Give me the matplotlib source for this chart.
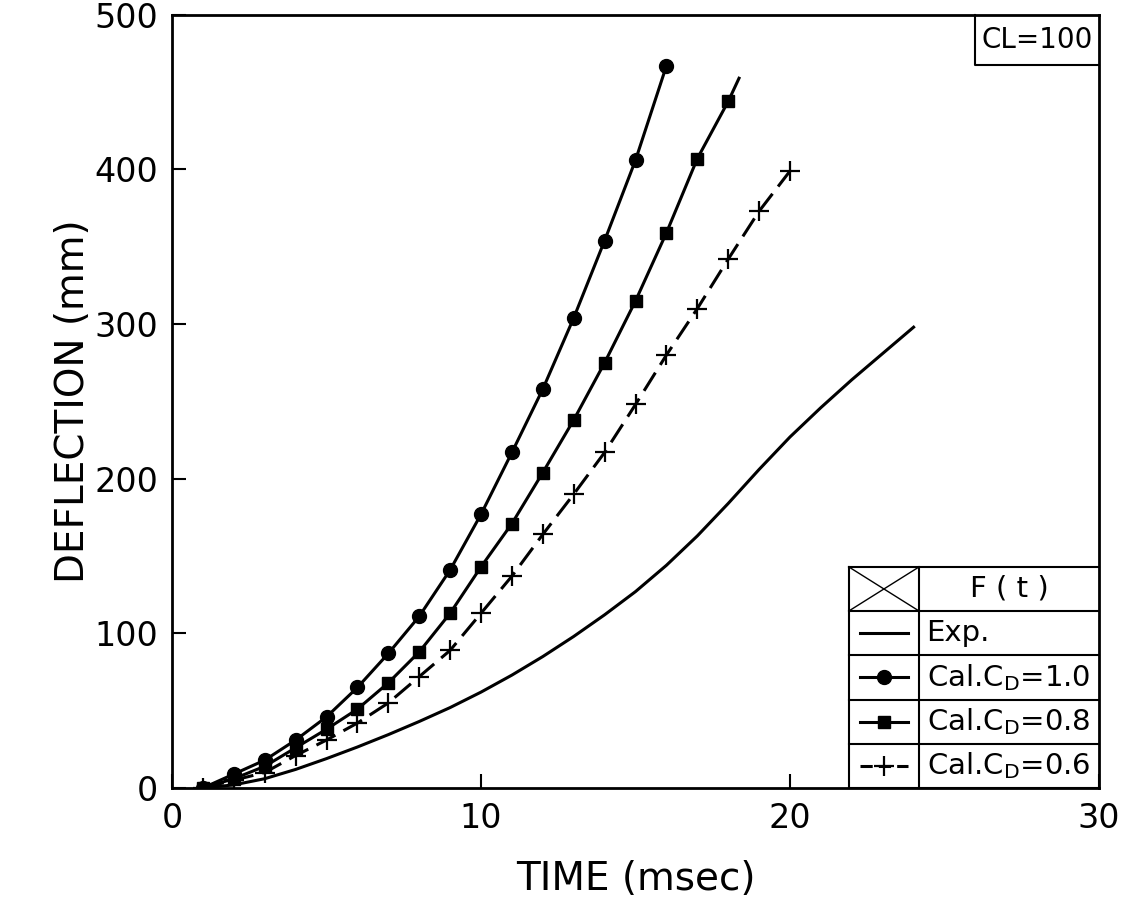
import matplotlib
matplotlib.use('Agg')
import matplotlib.pyplot as plt
from matplotlib.lines import Line2D

# values
t_exp = [1, 2, 3, 4, 5, 6, 7, 8, 9, 10, 11, 12, 13, 14, 15, 16, 17, 18, 19, 20, 21, 22, 23, 24]
d_exp = [0, 2, 6, 12, 19, 26.5, 34.5, 43, 52, 62, 73, 85, 98, 112, 127, 144, 163, 184, 206, 227, 246, 264, 281, 298]

t_cd10 = [1, 2, 3, 4, 5, 6, 7, 8, 9, 10, 11, 12, 13, 14, 15, 16]
d_cd10 = [0, 9, 18, 31, 46, 65, 87, 111, 141, 177, 217, 258, 304, 354, 406, 467]

t_cd08 = [1, 2, 3, 4, 5, 6, 7, 8, 9, 10, 11, 12, 13, 14, 15, 16, 17, 18]
d_cd08 = [0, 6, 14, 26, 38, 51, 68, 88, 113, 143, 171, 204, 238, 275, 315, 359, 407, 444]
t_cd08_end = 18.35
d_cd08_end = 459

t_cd06 = [1, 2, 3, 4, 5, 6, 7, 8, 9, 10, 11, 12, 13, 14, 15, 16, 17, 18, 19, 20]
d_cd06 = [0, 5, 10, 21, 31, 42, 55, 72, 89, 113, 137, 164, 190, 217, 248, 280, 310, 342, 373, 399]

legend_labels = ['Exp.', r'Cal.C$_{\mathrm{D}}$=1.0', r'Cal.C$_{\mathrm{D}}$=0.8', r'Cal.C$_{\mathrm{D}}$=0.6']

fig = plt.figure(figsize=(11.26, 8.99), dpi=100)
ax = fig.add_axes([0.1528, 0.1235, 0.8232, 0.86])

lw = 2.2
ax.plot(t_exp, d_exp, color='black', lw=lw)
ax.plot(t_cd10, d_cd10, color='black', lw=lw, marker='o', ms=10)
ax.plot(t_cd08 + [t_cd08_end], d_cd08 + [d_cd08_end], color='black', lw=lw)
ax.plot(t_cd08, d_cd08, color='black', lw=0, marker='s', ms=9)
ax.plot(t_cd06, d_cd06, color='black', lw=lw, ls=(0, (7, 3)), marker='+', ms=14, mew=1.6)

ax.set_xlim(0, 30)
ax.set_ylim(0, 500)
ax.set_xticks([0, 10, 20, 30])
ax.set_yticks([0, 100, 200, 300, 400, 500])
ax.tick_params(direction='in', length=10, width=1.5, labelsize=24, pad=10)
for s in ax.spines.values():
    s.set_linewidth(2)

ax.set_xlabel('TIME (msec)', fontsize=28, labelpad=18)
ax.set_ylabel('DEFLECTION (mm)', fontsize=28, labelpad=2)

# CL=100 box in the top right corner
bx0, by0 = 0.866, 0.935
ax.plot([bx0, bx0, 1.0], [1.0, by0, by0], transform=ax.transAxes, color='black', lw=1.5, clip_on=False)
ax.text((bx0 + 1) / 2, (by0 + 1) / 2, 'CL=100', transform=ax.transAxes,
        fontsize=20, ha='center', va='center')

# legend drawn as a small table, bottom right
c0, c1, c2 = 0.730, 0.806, 1.0
row_h = 0.0572
nrows = 5
top = nrows * row_h
tk = dict(transform=ax.transAxes, color='black', lw=1.5, clip_on=False)
ax.plot([c0, c0], [0, top], **tk)
ax.plot([c1, c1], [0, top], **tk)
for i in range(nrows + 1):
    y = top - i * row_h
    ax.plot([c0, c2], [y, y], **tk)
# header row: crossed box and F(t)
ax.plot([c0, c1], [top, top - row_h], transform=ax.transAxes, color='black', lw=1)
ax.plot([c0, c1], [top - row_h, top], transform=ax.transAxes, color='black', lw=1)
ax.text((c1 + c2) / 2, top - row_h / 2, 'F ( t )', transform=ax.transAxes,
        fontsize=21, ha='center', va='center')

styles = [dict(ls='-', marker=None),
          dict(ls='-', marker='o', ms=10),
          dict(ls='-', marker='s', ms=9),
          dict(ls=(0, (4, 2)), marker='+', ms=14, mew=1.6)]
for i, (lab, st) in enumerate(zip(legend_labels, styles)):
    yc = top - (i + 1.5) * row_h
    xs = [c0 + 0.012, (c0 + c1) / 2, c1 - 0.012]
    ax.add_line(Line2D(xs, [yc] * 3, color='black', lw=lw, markevery=[1],
                       transform=ax.transAxes, **st))
    ax.text(c1 + 0.008, yc, lab, transform=ax.transAxes, fontsize=21, ha='left', va='center')

fig.savefig('out.png', dpi=100)
